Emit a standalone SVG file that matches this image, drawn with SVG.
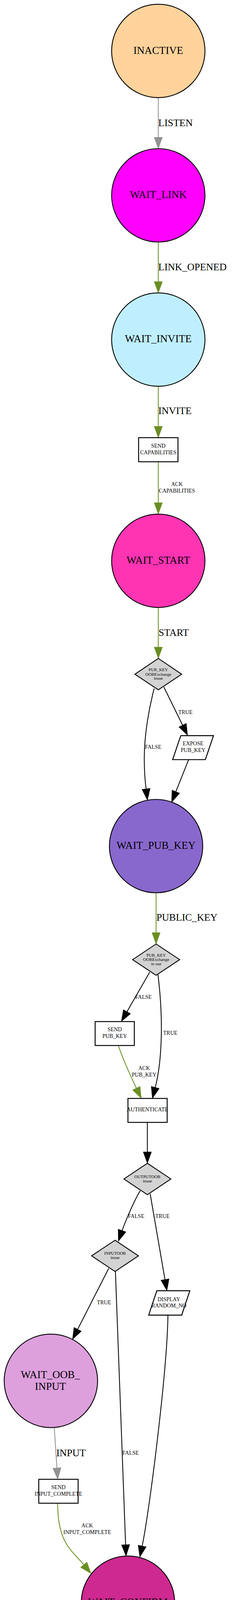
<svg xmlns="http://www.w3.org/2000/svg" width="594" height="6547" viewBox="0 0 594 6547">
<style>
text{font-family:"Liberation Serif","Times New Roman",serif;fill:#000}
.nt{font-size:27px;text-anchor:middle}
.bt{font-size:14px;text-anchor:middle}
.dt{font-size:11px;text-anchor:middle}
.lb{font-size:25.6px}
.ls{font-size:14px}
.lm{font-size:14px;text-anchor:middle}
.lbm{font-size:25.6px;text-anchor:middle}
.node{stroke:#000;stroke-width:2.2}
.box{fill:#fff;stroke:#000;stroke-width:2.4}
.dia{fill:#d3d3d3;stroke:#000;stroke-width:2.2}
.e{fill:none;stroke-width:2.1}
.gray{stroke:#929292}
.olive{stroke:#6b8e23}
.blk{stroke:#000}
</style>
<defs>
<marker id="ag" markerUnits="userSpaceOnUse" orient="auto" markerWidth="31" markerHeight="23" refX="0" refY="10.5" overflow="visible"><path d="M0,0 L29,10.5 L0,21 Z" fill="#929292" stroke="#929292" stroke-width="1"/></marker>
<marker id="ao" markerUnits="userSpaceOnUse" orient="auto" markerWidth="31" markerHeight="23" refX="0" refY="10.5" overflow="visible"><path d="M0,0 L29,10.5 L0,21 Z" fill="#6b8e23" stroke="#6b8e23" stroke-width="1"/></marker>
<marker id="ab" markerUnits="userSpaceOnUse" orient="auto" markerWidth="31" markerHeight="23" refX="0" refY="10.5" overflow="visible"><path d="M0,0 L29,10.5 L0,21 Z" fill="#000" stroke="#000" stroke-width="1"/></marker>
</defs>
<rect x="0" y="0" width="594" height="6547" fill="#fff"/>
<g id="connectors">
<path class="e gray" marker-end="url(#ag)" d="M405.3,250 L405.3,351.5"/>
<path class="e olive" marker-end="url(#ao)" d="M405.3,619.6 L405.3,721"/>
<path class="e olive" marker-end="url(#ao)" d="M405.3,988.6 L405.3,1091.5"/>
<path class="e olive" marker-end="url(#ao)" d="M405.3,1182.1 L405.3,1287"/>
<path class="e olive" marker-end="url(#ao)" d="M405.3,1555.4 L405.3,1656.7"/>
<path class="e blk" marker-end="url(#ab)" d="M394.7,1762.5 C381,1815 370,1880 369.5,1935 C369,1965 371,1995 374,2019.6"/>
<path class="e blk" marker-end="url(#ab)" d="M419.7,1759 L467.5,1856.5"/>
<path class="e blk" marker-end="url(#ab)" d="M483,1944.6 L450.2,2026.7"/>
<path class="e olive" marker-end="url(#ao)" d="M399.6,2285.5 L399.6,2387.7"/>
<path class="e blk" marker-end="url(#ab)" d="M383.3,2488.7 L325.1,2589.9"/>
<path class="e blk" marker-end="url(#ab)" d="M404.5,2494.6 C410,2540 414,2600 413,2650 C412,2700 407.5,2745.2 397.45,2783.9"/>
<path class="e olive" marker-end="url(#ao)" d="M303,2676.5 C310,2700 336.3,2758.7 349.2,2785.8"/>
<path class="e blk" marker-end="url(#ab)" d="M377.3,2873.3 L377.3,2949"/>
<path class="e blk" marker-end="url(#ab)" d="M359.1,3048.4 C345,3070 320.9,3126.7 312.6,3150.3"/>
<path class="e blk" marker-end="url(#ab)" d="M384.5,3056.3 L422.4,3275.7"/>
<path class="e blk" marker-end="url(#ab)" d="M278.4,3247 L198.8,3403"/>
<path class="e blk" marker-end="url(#ab)" d="M295.5,3254.8 L321.6,3954.5"/>
<path class="e blk" marker-end="url(#ab)" d="M430,3366.7 C428,3512 382,3872.7 364,3957.8"/>
<path class="e gray" marker-end="url(#ag)" d="M139,3655.3 L145.8,3758.1"/>
<path class="e olive" marker-end="url(#ao)" d="M147.7,3848.2 C147.7,3950 182.6,3967.3 214.5,4005.8"/>
<path class="e olive" marker-end="url(#ao)" d="M327.7,4222.6 L327.7,4325.2"/>
<path class="e olive" marker-end="url(#ao)" d="M327.7,4415.5 L327.7,4521"/>
<path class="e olive" marker-end="url(#ao)" d="M327.7,4788.3 L327.7,4891"/>
<path class="e blk" marker-end="url(#ab)" d="M313.6,4991.7 L266.8,5092"/>
<path class="e blk" marker-end="url(#ab)" d="M340.2,4993.3 L421.4,5203.6"/>
<path class="e blk" marker-end="url(#ab)" d="M240.2,5179.3 L234.3,5315"/>
<path class="e blk" marker-end="url(#ab)" d="M443.2,5292.7 C440,5450 414,5765.4 397.2,5914.5"/>
<path class="e olive" marker-end="url(#ao)" d="M215.9,5583.3 C216,5650 221,5662.2 241.8,5718.5"/>
<path class="e olive" marker-end="url(#ao)" d="M282.2,5807.3 C293,5840 314.3,5892.2 323.6,5920.7"/>
<path class="e olive" marker-end="url(#ao)" d="M372,6180 L372,6268.3"/>
<text class="lb" x="405.3" y="322.5">LISTEN</text>
<text class="lb" x="405.3" y="692">LINK_OPENED</text>
<text class="lb" x="405.3" y="1060">INVITE</text>
<text class="lm" x="453" y="1243.6">ACK</text>
<text class="lm" x="453" y="1261.4">CAPABILITIES</text>
<text class="lb" x="406" y="1627.5">START</text>
<text class="ls" x="371.2" y="1916.8">FALSE</text>
<text class="ls" x="456.4" y="1827.5">TRUE</text>
<text class="lb" x="400.4" y="2357.4">PUBLIC_KEY</text>
<text class="ls" x="346.6" y="2557">FALSE</text>
<text class="ls" x="417.8" y="2648.8">TRUE</text>
<text class="lm" x="369" y="2738.6">ACK</text>
<text class="lm" x="369" y="2755.6">PUB_KEY</text>
<text class="ls" x="327.7" y="3118.4">FALSE</text>
<text class="ls" x="397.7" y="3118.4">TRUE</text>
<text class="ls" x="248.1" y="3339.1">TRUE</text>
<text class="ls" x="313.6" y="3723.7">FALSE</text>
<text class="lb" x="144" y="3727.6">INPUT</text>
<text class="lm" x="223.4" y="3910.3">ACK</text>
<text class="lm" x="223.4" y="3927.3">INPUT_COMPLETE</text>
<text class="lb" x="328.8" y="4293">CONFIRMATION</text>
<text class="lm" x="382.8" y="4477.6">ACK</text>
<text class="lm" x="382.8" y="4493.4">CONFIRMATION</text>
<text class="lb" x="327.7" y="4860">RANDOM</text>
<text class="ls" x="286" y="5060.7">SUCCESS</text>
<text class="ls" x="371.2" y="5060.7">FAIL</text>
<text class="lbm" x="317" y="5655">PROVISIONING</text>
<text class="lbm" x="317" y="5685">DATA</text>
<text class="lm" x="347.7" y="5868.3">ACK</text>
<text class="lm" x="347.7" y="5885">COMPLETE</text>
<text class="ls" x="372.3" y="6241.7">SUCCESS</text>
</g>
<g id="INACTIVE"><circle class="node" cx="405.3" cy="130.4" r="119.5" fill="#ffd39b"/><text class="nt" x="405.3" y="137.6">INACTIVE</text></g>
<g id="WAIT_LINK"><circle class="node" cx="405.3" cy="500" r="119.5" fill="#ff00ff"/><text class="nt" x="405.3" y="507">WAIT_LINK</text></g>
<g id="WAIT_INVITE"><circle class="node" cx="405.3" cy="869.3" r="119.5" fill="#bfefff"/><text class="nt" x="405.3" y="876.3">WAIT_INVITE</text></g>
<g id="SEND_CAPABILITIES"><rect class="box" x="354.9" y="1120.4" width="100.8" height="61.7"/><text class="bt" x="405.3" y="1145.7">SEND</text><text class="bt" x="405.3" y="1162.5">CAPABILITIES</text></g>
<g id="WAIT_START"><circle class="node" cx="405.3" cy="1435.7" r="119.5" fill="#ff34b3"/><text class="nt" x="405.3" y="1442.7">WAIT_START</text></g>
<g id="PUB_KEY_OOB_1"><polygon class="dia" points="405.3,1685.7 465.2,1726 405.3,1766 345.5,1726"/><text class="dt" x="405.3" y="1718.4">PUB_KEY</text><text class="dt" x="405.3" y="1729.6">OOBExchange</text><text class="dt" x="405.3" y="1740.4">inuse</text></g>
<g id="EXPOSE_PUB_KEY"><polygon class="box" points="462.9,1883.2 546.6,1883.2 525.8,1944.6 442,1944.6"/><text class="bt" x="494.3" y="1908.2">EXPOSE</text><text class="bt" x="494.3" y="1925">PUB_KEY</text></g>
<g id="WAIT_PUB_KEY"><circle class="node" cx="399.6" cy="2166" r="119.5" fill="#8968cd"/><text class="nt" x="399.6" y="2173">WAIT_PUB_KEY</text></g>
<g id="PUB_KEY_OOB_2"><polygon class="dia" points="399.6,2416.7 460,2456.7 399.6,2496.7 339.6,2456.7"/><text class="dt" x="399.8" y="2448.8">PUB_KEY</text><text class="dt" x="399.8" y="2460">OOBExchange</text><text class="dt" x="399.8" y="2470.8">in use</text></g>
<g id="SEND_PUB_KEY"><rect class="box" x="243.6" y="2615.2" width="100.3" height="61.3"/><text class="bt" x="293.7" y="2640">SEND</text><text class="bt" x="293.7" y="2656.8">PUB_KEY</text></g>
<g id="AUTHENTICATE"><rect class="box" x="327.6" y="2812" width="100.4" height="61.3"/><text class="bt" x="377.3" y="2845.4">AUTHENTICATE</text></g>
<g id="OUTPUTOOB"><polygon class="dia" points="377.3,2978 437.5,3018.2 377.3,3058.4 317.3,3018.2"/><text class="dt" x="377.3" y="3015.6">OUTPUTOOB</text><text class="dt" x="377.3" y="3026.6">inuse</text></g>
<g id="INPUTOOB"><polygon class="dia" points="294.5,3175 354.5,3215 294.5,3255 234.5,3215"/><text class="dt" x="294.5" y="3212.4">INPUTOOB</text><text class="dt" x="294.5" y="3223.4">inuse</text></g>
<g id="DISPLAY_RANDOM_NO"><polygon class="box" points="401.5,3304.3 486,3304.3 465.2,3366.7 380.7,3366.7"/><text class="bt" x="432.4" y="3331">DISPLAY</text><text class="bt" x="432.4" y="3347">RANDOM_NO</text></g>
<g id="WAIT_OOB_INPUT"><circle class="node" cx="130.3" cy="3535" r="119.6" fill="#dda0dd"/><text class="nt" x="129" y="3527.6">WAIT_OOB_</text><text class="nt" x="129" y="3557.6">INPUT</text></g>
<g id="SEND_INPUT_COMPLETE"><rect class="box" x="99.2" y="3787" width="100.8" height="61.2"/><text class="bt" x="149.6" y="3812.3">SEND</text><text class="bt" x="149.6" y="3828.6">INPUT_COMPLETE</text></g>
<g id="WAIT_CONFIRM"><circle class="node" cx="327.7" cy="4103" r="119.6" fill="#cd2990"/><text class="nt" x="327.7" y="4110">WAIT_CONFIRM</text></g>
<g id="SEND_CONFIRMATION"><rect class="box" x="277.5" y="4354.2" width="100.5" height="61.3"/><text class="bt" x="327.7" y="4379">SEND</text><text class="bt" x="327.7" y="4396">CONFIRMATION</text></g>
<g id="WAIT_RANDOM"><circle class="node" cx="327.7" cy="4669.4" r="119.4" fill="#ab82ff"/><text class="nt" x="327.7" y="4676">WAIT_RANDOM</text></g>
<g id="CONFIRMATION_CHECK"><polygon class="dia" points="327.7,4920 387.5,4960 327.7,5000 267.9,4960"/><text class="dt" x="327.7" y="4957.4">CONFIRMATION</text><text class="dt" x="327.7" y="4968.4">CHECK</text></g>
<g id="SEND_RANDOM"><rect class="box" x="191.3" y="5118.3" width="100.4" height="61"/><text class="bt" x="240" y="5142.8">SEND</text><text class="bt" x="240" y="5159.6">RANDOM</text></g>
<g id="SEND_FAILED"><rect class="box" x="394" y="5230.7" width="100.3" height="62"/><text class="bt" x="443" y="5256.4">SEND</text><text class="bt" x="443" y="5273.3">FAILED</text></g>
<g id="WAIT_DATA"><circle class="node" cx="227.8" cy="5463.7" r="119.6" fill="#a020f0"/><text class="nt" x="227" y="5470.7">WAIT_DATA</text></g>
<g id="SEND_COMPLETE"><rect class="box" x="221.6" y="5745.7" width="100.7" height="61.6"/><text class="bt" x="271.8" y="5778.6">SEND_COMPLETE</text></g>
<g id="WAIT_CLOSE"><circle class="node" cx="371.8" cy="6060.3" r="119.6" fill="#cd96cd"/><text class="nt" x="372" y="6067.3">WAIT_CLOSE</text></g>
<g id="PROVISIONED"><circle class="node" cx="372" cy="6416.6" r="119.3" fill="#00ff00"/><text class="nt" x="372" y="6423.4">PROVISONED</text></g>
</svg>
